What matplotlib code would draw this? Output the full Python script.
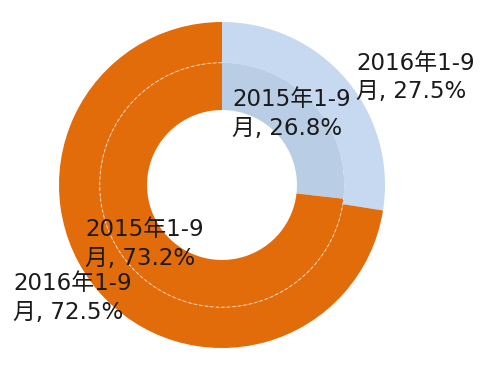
import matplotlib.pyplot as plt
from matplotlib.patches import Arc

plt.rcParams['font.family'] = ['DejaVu Sans', 'Noto Sans CJK SC']

# data
periods = ['2015年1-9月', '2016年1-9月']
share_2015 = [26.8, 73.2]
share_2016 = [27.5, 72.5]

blue_2015 = '#b9cde5'
blue_2016 = '#c6d9f0'
orange = '#e36c0a'

fig = plt.figure(figsize=(5.04, 3.82), dpi=100)
ax = fig.add_axes([0, 0, 1, 1])

# outer ring: 2016, inner ring: 2015
ax.pie(share_2016, radius=1.0, startangle=90, counterclock=False,
       colors=[blue_2016, orange], wedgeprops=dict(width=0.25, edgecolor='none'))
ax.pie(share_2015, radius=0.75, startangle=90, counterclock=False,
       colors=[blue_2015, orange], wedgeprops=dict(width=0.29, edgecolor='none'))

# dashed white separator over the orange part of the rings
end_ang = 90 - share_2015[0] / 100 * 360
ax.add_patch(Arc((0, 0), 1.5, 1.5, theta1=90, theta2=end_ang + 360,
                 color='white', lw=0.8, ls=(0, (3, 2)), alpha=0.6))

fs = 16.5
# label left edge x, vertical centre y (axes data units)
labels = [
    (0.822, 0.66, '2016年1-9\n月, %.1f%%' % share_2016[0]),
    (0.061, 0.436, '2015年1-9\n月, %.1f%%' % share_2015[0]),
    (-0.840, -0.362, '2015年1-9\n月, %.1f%%' % share_2015[1]),
    (-1.282, -0.693, '2016年1-9\n月, %.1f%%' % share_2016[1]),
]
for x, y, t in labels:
    ax.text(x, y, t, ha='left', va='center', multialignment='left',
            fontsize=fs, color='#1a1a1a', linespacing=1.3)

ax.set_xlim(-222 / 163, (504 - 222) / 163)
ax.set_ylim(-(382 - 185) / 163, 185 / 163)
ax.set_aspect('equal')
ax.axis('off')

fig.savefig('out.png', dpi=100)
